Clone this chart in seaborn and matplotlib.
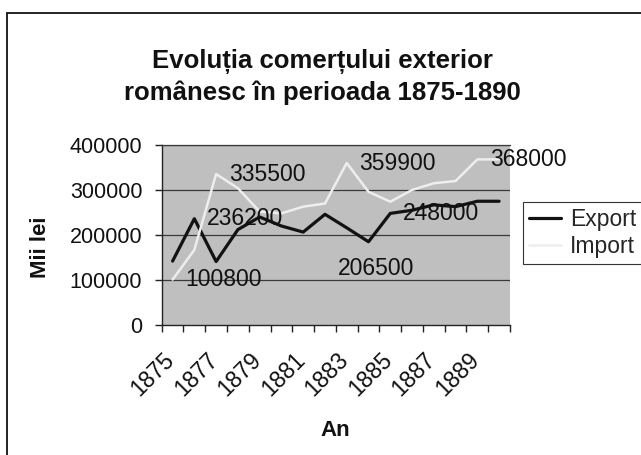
import matplotlib
matplotlib.use("Agg")
import matplotlib.pyplot as plt
from matplotlib.patches import Rectangle
import seaborn as sns
import pandas as pd

# Date (mii lei)
ani = list(range(1875, 1891))
export = [142000, 236200, 141000, 212000, 240000, 220000, 206500, 246000,
          216000, 185000, 248000, 255000, 267000, 263000, 275000, 275000]
importuri = [100800, 167000, 335500, 304000, 252000, 248000, 263000, 270000,
             359900, 296000, 274000, 300000, 315000, 320000, 368000, 368000]
etichete_x = ["1875", "1877", "1879", "1881", "1883", "1885", "1887", "1889"]
y_ticks = [0, 100000, 200000, 300000, 400000]

# Valorile afișate pe grafic: (serie, an)
valori_afisate = [("Import", 1875), ("Export", 1876), ("Import", 1877),
                  ("Import", 1883), ("Export", 1881), ("Export", 1885),
                  ("Import", 1889)]

titlu = "Evoluția comerțului exterior\nromânesc în perioada 1875-1890"

df = pd.DataFrame({
    "An": ani + ani,
    "Valoare": export + importuri,
    "Serie": ["Export"] * len(ani) + ["Import"] * len(ani),
})

sns.set_theme(style="white")
plt.rcParams["font.family"] = ["Liberation Sans", "DejaVu Sans"]

fig = plt.figure(figsize=(6.41, 4.55), dpi=100)
fig.patch.set_facecolor("white")
ax = fig.add_axes([161.7 / 641, 1 - 325 / 455, 348.3 / 641, 180 / 455])
ax.set_facecolor("#bfbfbf")

sns.lineplot(data=df, x="An", y="Valoare", hue="Serie", size="Serie",
             palette={"Export": "#121212", "Import": "#eeeeee"},
             sizes={"Export": 2.3, "Import": 1.8},
             ax=ax, legend=False)

# Grila orizontală
for v in y_ticks[1:]:
    ax.axhline(v, color="#3a3a3a", linewidth=0.9, zorder=0.5)

ax.set_yticks(y_ticks)
ax.set_yticklabels([str(v) for v in y_ticks], fontsize=15.5, color="#111111")
ax.tick_params(axis="y", which="major", direction="out", length=5,
               width=1, color="#222222", pad=9, left=True)

# etichetele anilor puțin la stânga centrului categoriei (ca în Excel)
ax.set_xticks([int(a) - 0.46 for a in etichete_x])
ax.set_xticklabels(etichete_x, fontsize=16.5, color="#111111",
                   rotation=45, ha="right", va="top", rotation_mode="anchor")
ax.set_xticks([a - 0.5 for a in ani] + [ani[-1] + 0.5], minor=True)
ax.tick_params(axis="x", which="major", length=0, pad=17)
ax.tick_params(axis="x", which="minor", direction="out", length=5,
               width=1, color="#222222", bottom=True)

ax.set_xlim(ani[0] - 0.5, ani[-1] + 0.5)
ax.set_ylim(0, 400000)

for s in ["left", "bottom"]:
    ax.spines[s].set_color("#222222")
    ax.spines[s].set_linewidth(1.0)
ax.spines["right"].set_visible(False)
ax.spines["top"].set_color("#3a3a3a")
ax.spines["top"].set_linewidth(0.9)

ax.set_xlabel("An", fontsize=16, fontweight="bold", color="#111111")
ax.set_ylabel("Mii lei", fontsize=16, fontweight="bold", color="#111111")
ax.xaxis.set_label_coords(0.497, -0.528)
ax.yaxis.set_label_coords(-0.318, 0.43)

# Etichete de valoare
serii = {"Export": export, "Import": importuri}
for serie, an in valori_afisate:
    v = serii[serie][ani.index(an)]
    if serie == "Export" and an == 1881:
        off = (25, -26)
    else:
        off = (9, 0)
    ax.annotate(str(v), xy=(an, v), xytext=off, textcoords="offset points",
                ha="left", va="center", fontsize=16.5, color="#111111",
                annotation_clip=False)

# Legenda
handles = ax.get_lines()[:2]
leg = fig.legend(handles, ["Export", "Import"], loc="upper left",
                 bbox_to_anchor=(523 / 641, 1 - 202 / 455),
                 bbox_transform=fig.transFigure, borderaxespad=0,
                 fontsize=16.5, handlelength=1.4, handletextpad=0.4,
                 borderpad=0.25, labelspacing=0.2, fancybox=False,
                 framealpha=1)
leg.get_frame().set_edgecolor("#333333")
leg.get_frame().set_linewidth(0.8)

fig.text(322 / 641, 1 - 49 / 455, titlu, ha="center", va="top",
         fontsize=18.5, fontweight="bold", color="#111111", linespacing=1.35)

# Chenarul diagramei
fig.patches.append(Rectangle((7 / 641, -0.1), 1.0, 1.1 - 13 / 455,
                             transform=fig.transFigure, fill=False,
                             edgecolor="#111111", linewidth=1.3))

fig.savefig("out.png", dpi=100)
